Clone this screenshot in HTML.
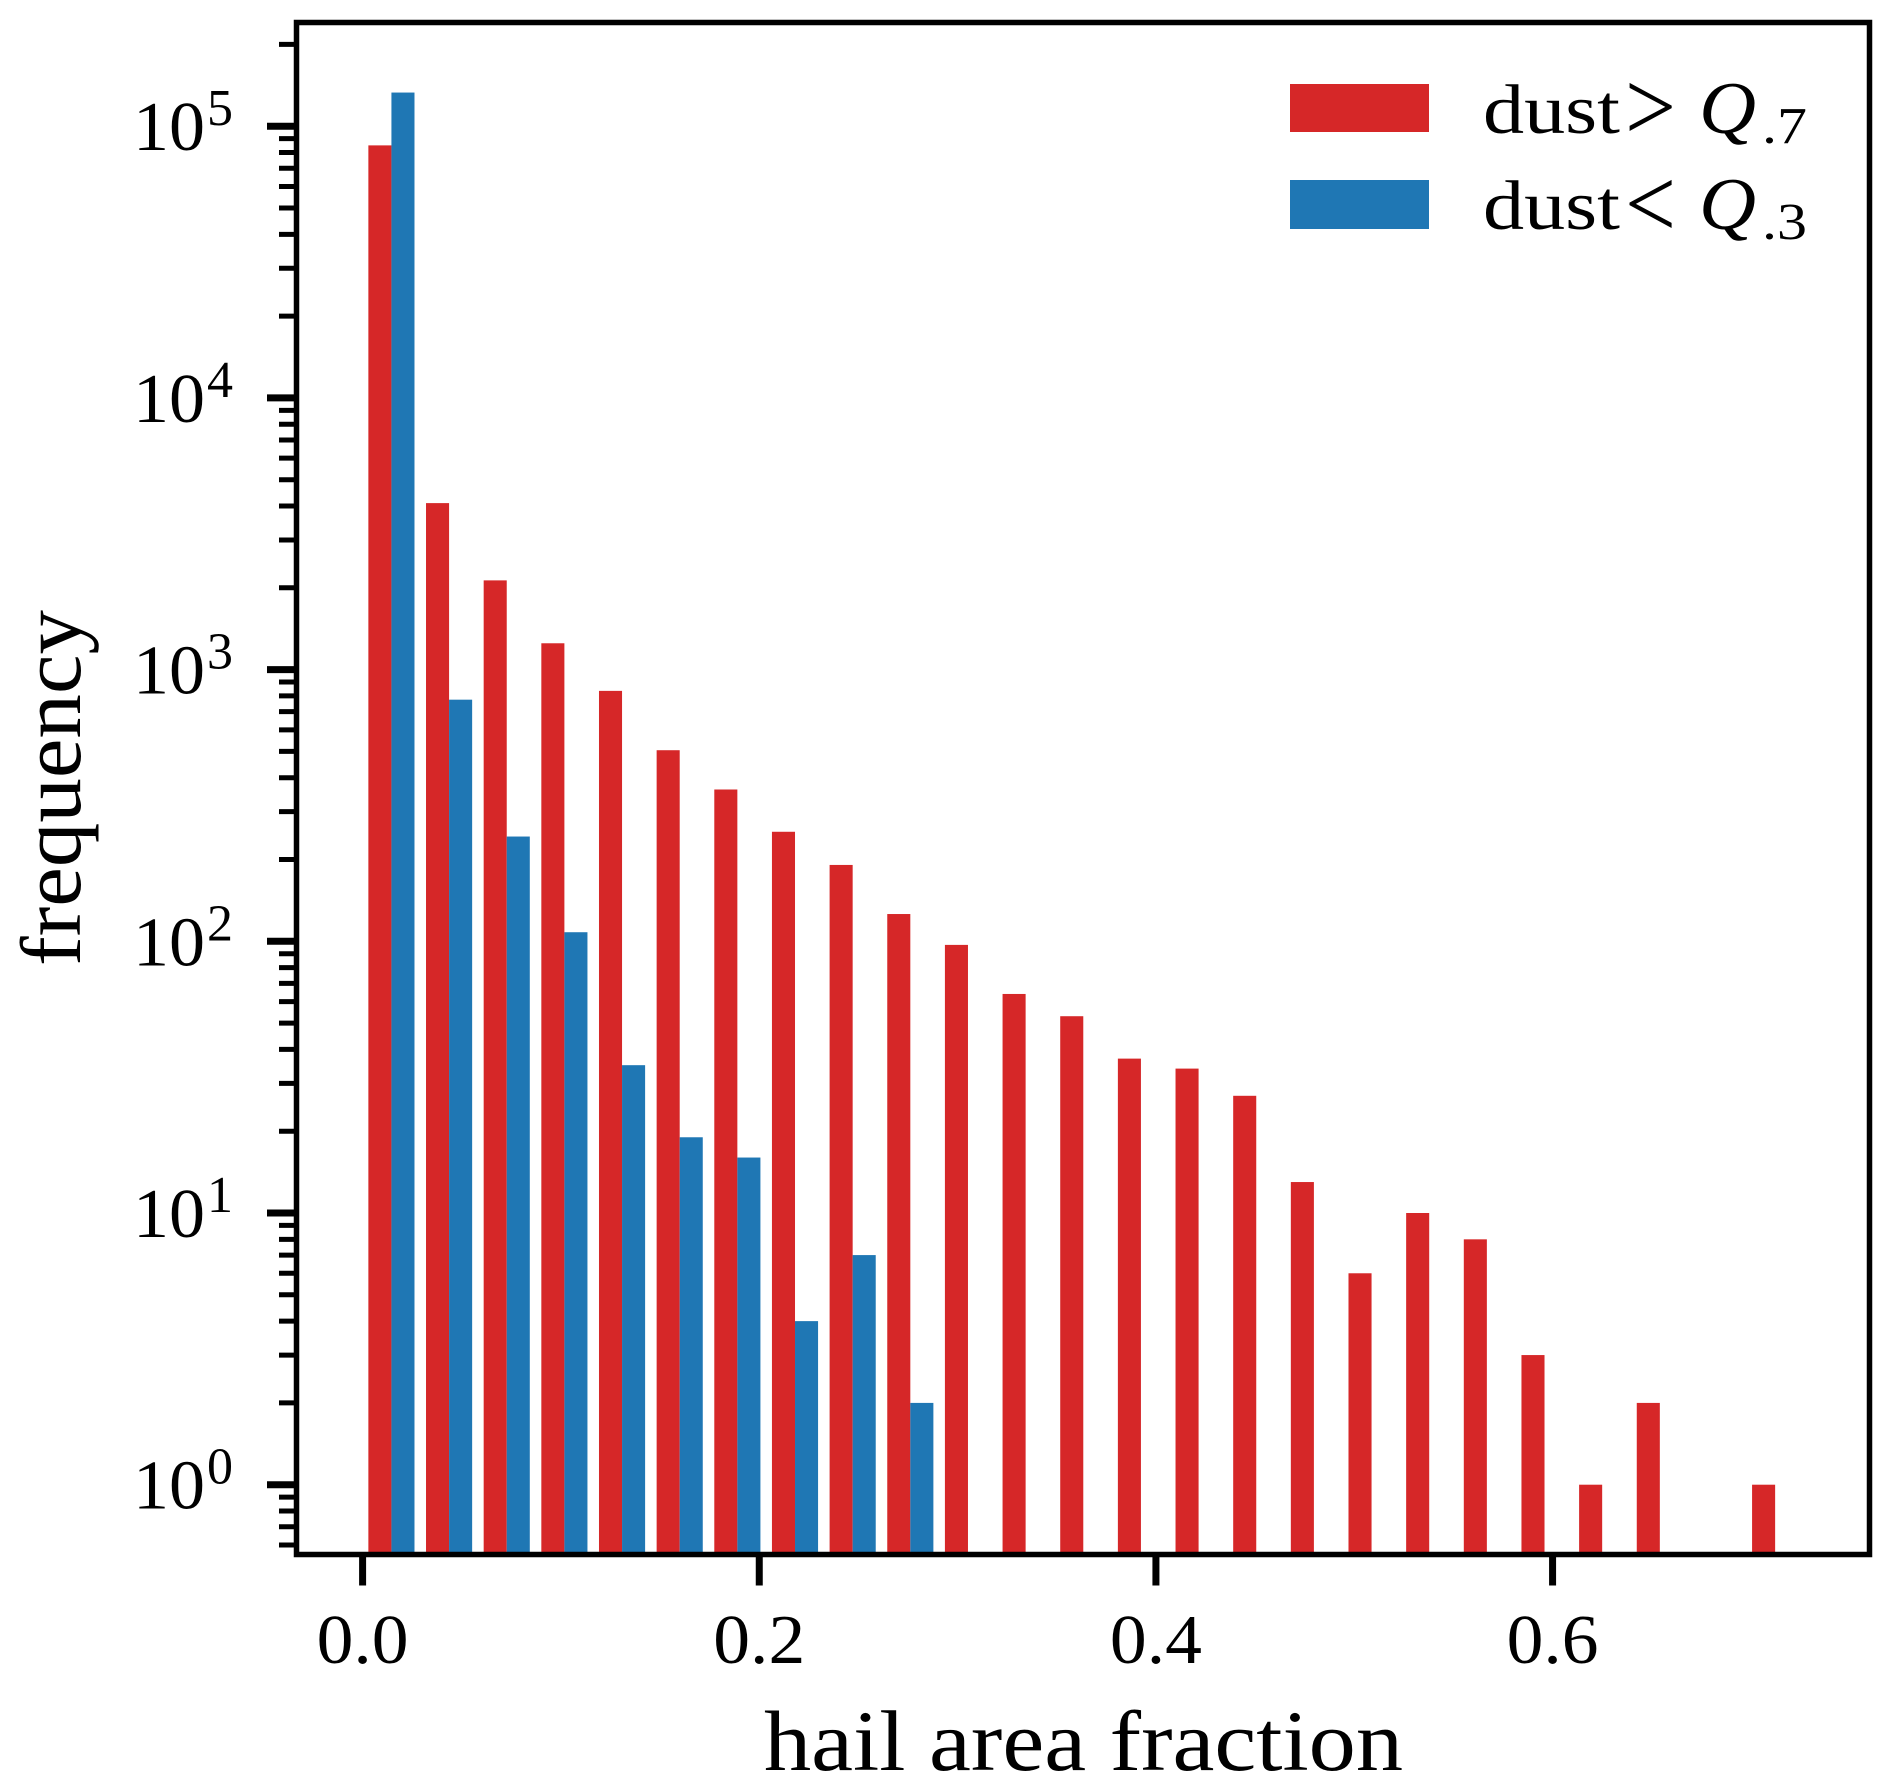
<!DOCTYPE html>
<html lang="en">
<head>
<meta charset="utf-8">
<title>Hail area fraction histogram</title>
<style>
html, body { margin: 0; padding: 0; background: #fff; }
svg { display: block; }
text { font-family: "Liberation Serif", "DejaVu Serif", serif; fill: #000; }
</style>
</head>
<body>
<svg id="chart" xmlns="http://www.w3.org/2000/svg" width="1892" height="1791" viewBox="0 0 1892 1791">
  <rect x="0" y="0" width="1892" height="1791" fill="#ffffff"/>
  <g id="bars"></g>
  <g id="ticks"></g>
  <rect x="296.5" y="22.5" width="1573" height="1532" fill="none" stroke="#000" stroke-width="5.5"/>
  <g>
    <g>
      <rect x="1290" y="84" width="139" height="48" fill="#d62728"/>
      <text x="1483" y="133" font-size="70" textLength="137" lengthAdjust="spacingAndGlyphs">dust</text>
      <text x="1625" y="140" font-size="100" textLength="51" lengthAdjust="spacingAndGlyphs">&gt;</text>
      <text x="1699" y="133" font-size="74" font-style="italic" textLength="57" lengthAdjust="spacingAndGlyphs">Q</text>
      <text x="1762" y="143" font-size="52" textLength="45" lengthAdjust="spacingAndGlyphs">.7</text>
    </g>
    <g>
      <rect x="1290" y="180" width="139" height="49" fill="#1f77b4"/>
      <text x="1483" y="229" font-size="70" textLength="137" lengthAdjust="spacingAndGlyphs">dust</text>
      <text x="1625" y="237" font-size="100" textLength="51" lengthAdjust="spacingAndGlyphs">&lt;</text>
      <text x="1699" y="229" font-size="74" font-style="italic" textLength="57" lengthAdjust="spacingAndGlyphs">Q</text>
      <text x="1762" y="239" font-size="52" textLength="45" lengthAdjust="spacingAndGlyphs">.3</text>
    </g>
  </g>
  <text x="764" y="1770" font-size="86" textLength="639" lengthAdjust="spacingAndGlyphs">hail area fraction</text>
  <text transform="translate(80 966) rotate(-90)" x="0" y="0" font-size="86" textLength="356" lengthAdjust="spacingAndGlyphs">frequency</text>
</svg>
<script>
// Histogram bin width in data units (hail area fraction)
const binWidth = 0.02907;
// Counts per bin; 0 means no bar is drawn
const highDustCounts = [85000, 4100, 2130, 1250, 835, 505, 362, 253, 191, 126, 97, 64, 53, 37, 34, 27, 13, 6, 10, 8, 3, 1, 2, 0, 1];
const lowDustCounts = [133000, 775, 243, 108, 35, 19, 16, 4, 7, 2];
// Axis tick values
const xTickValues = [0.0, 0.2, 0.4, 0.6];
const xTickLabels = ["0.0", "0.2", "0.4", "0.6"];
const yTickExponents = [0, 1, 2, 3, 4, 5];
const yMinorMultiples = [2, 3, 4, 5, 6, 7, 8, 9];

const svgNS = "http://www.w3.org/2000/svg";
const barsGroup = document.getElementById("bars");
const ticksGroup = document.getElementById("ticks");

const plotBottom = 1554.5;
const plotTop = 22.5;
const xZero = 362.6;
const xPerUnit = 1983.3;
const yAtOne = 1484.7;
const yPerDecade = 271.7;

function xScale(v) { return xZero + v * xPerUnit; }
function yScale(v) { return yAtOne - Math.log10(v) * yPerDecade; }

function make(tag, parent) {
  const el = document.createElementNS(svgNS, tag);
  parent.appendChild(el);
  return el;
}

function drawBars(counts, offsetFraction, color, prefix) {
  counts.forEach(function (count, i) {
    if (count <= 0) return;
    const left = xScale((i + offsetFraction) * binWidth);
    const right = xScale((i + offsetFraction + 0.4) * binWidth);
    const top = yScale(count);
    const bar = make("rect", barsGroup);
    bar.setAttribute("x", left);
    bar.setAttribute("y", top);
    bar.setAttribute("width", right - left);
    bar.setAttribute("height", plotBottom - top);
    bar.setAttribute("fill", color);
    
    
  });
}

drawBars(highDustCounts, 0.1, "#d62728", "high-dust");
drawBars(lowDustCounts, 0.5, "#1f77b4", "low-dust");

xTickValues.forEach(function (value, i) {
  const x = xScale(value);
  const tick = make("line", ticksGroup);
  tick.setAttribute("x1", x);
  tick.setAttribute("x2", x);
  tick.setAttribute("y1", plotBottom);
  tick.setAttribute("y2", 1585.5);
  tick.setAttribute("stroke", "#000");
  tick.setAttribute("stroke-width", 7);
  
  

  const label = make("text", ticksGroup);
  label.setAttribute("x", x - 46);
  label.setAttribute("y", 1663);
  label.setAttribute("font-size", 70);
  label.setAttribute("textLength", 92);
  label.setAttribute("lengthAdjust", "spacingAndGlyphs");
  label.textContent = xTickLabels[i];
  
  
});

yTickExponents.forEach(function (exponent) {
  const y = yScale(Math.pow(10, exponent));
  const tick = make("line", ticksGroup);
  tick.setAttribute("x1", 267);
  tick.setAttribute("x2", 296.5);
  tick.setAttribute("y1", y);
  tick.setAttribute("y2", y);
  tick.setAttribute("stroke", "#000");
  tick.setAttribute("stroke-width", 7);
  
  

  const base = make("text", ticksGroup);
  base.setAttribute("x", 133);
  base.setAttribute("y", y + 24);
  base.setAttribute("font-size", 70);
  base.setAttribute("textLength", 72);
  base.setAttribute("lengthAdjust", "spacingAndGlyphs");
  base.textContent = "10";
  
  

  const power = make("text", ticksGroup);
  power.setAttribute("x", 207);
  power.setAttribute("y", y - 1);
  power.setAttribute("font-size", 52);
  power.textContent = String(exponent);
  
  

  [-1, 0].forEach(function (shift) {
    yMinorMultiples.forEach(function (m) {
      const my = yScale(m * Math.pow(10, exponent + shift));
      if (shift === -1 && exponent !== 0) return;
      if (my < plotTop || my > plotBottom) return;
      const minor = make("line", ticksGroup);
      minor.setAttribute("x1", 279);
      minor.setAttribute("x2", 296.5);
      minor.setAttribute("y1", my);
      minor.setAttribute("y2", my);
      minor.setAttribute("stroke", "#000");
      minor.setAttribute("stroke-width", 5);
      
      
    });
  });
});
</script>
</body>
</html>
